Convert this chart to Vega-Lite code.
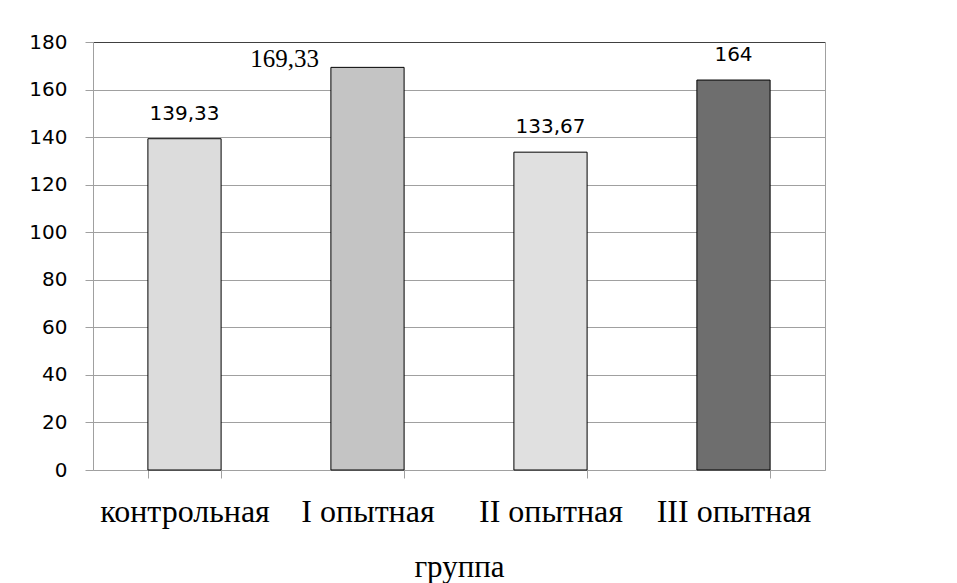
{
  "$schema": "https://vega.github.io/schema/vega-lite/v6.json",
  "width": 732,
  "height": 428,
  "autosize": {"type": "none"},
  "padding": {"left": 93, "top": 42, "right": 132, "bottom": 113},
  "background": "white",
  "config": {"view": {"stroke": null}},
  "data": {
    "values": [
      {"group": "контрольная", "value": 139.33, "label": "139,33"},
      {"group": "I опытная", "value": 169.33, "label": "169,33"},
      {"group": "II опытная", "value": 133.67, "label": "133,67"},
      {"group": "III опытная", "value": 164, "label": "164"}
    ]
  },
  "resolve": {"axis": {"y": "independent"}},
  "encoding": {
    "x": {
      "field": "group",
      "type": "nominal",
      "sort": null,
      "scale": {"paddingInner": 0.6, "paddingOuter": 0.3},
      "axis": {
        "labelAngle": 0,
        "tickBand": "extent",
        "tickSize": 8,
        "tickColor": "#a0a0a0",
        "domainColor": "#a0a0a0",
        "labelFont": "Liberation Serif",
        "labelFontSize": 32,
        "labelColor": "black",
        "labelBaseline": "alphabetic",
        "labelPadding": 43.7,
        "labelOverlap": false,
        "labelLimit": 0,
        "title": "группа",
        "titleFont": "Liberation Serif",
        "titleFontSize": 31,
        "titleFontWeight": "normal",
        "titleColor": "black",
        "titleBaseline": "alphabetic",
        "titleY": 106,
        "grid": false
      }
    }
  },
  "layer": [
    {
      "mark": {"type": "bar", "stroke": "black", "strokeWidth": 1},
      "encoding": {
        "y": {
          "field": "value",
          "type": "quantitative",
          "scale": {"domain": [0, 180]},
          "axis": {
            "orient": "left",
            "values": [0, 20, 40, 60, 80, 100, 120, 140, 160, 180],
            "tickSize": 8,
            "tickColor": "#a0a0a0",
            "domainColor": "#a0a0a0",
            "grid": true,
            "gridColor": {"condition": {"test": "datum.value === 180", "value": "#404040"}, "value": "#a0a0a0"},
            "labelFont": "DejaVu Sans",
            "labelFontSize": 20,
            "labelColor": "black",
            "labelPadding": 18,
            "title": null
          }
        },
        "fill": {
          "field": "group",
          "type": "nominal",
          "scale": {
            "domain": ["контрольная", "I опытная", "II опытная", "III опытная"],
            "range": ["#dcdcdc", "#c4c4c4", "#e0e0e0", "#6e6e6e"]
          },
          "legend": null
        }
      }
    },
    {
      "transform": [{"filter": "datum.group !== 'I опытная'"}],
      "mark": {"type": "text", "font": "DejaVu Sans", "fontSize": 20, "baseline": "alphabetic", "dy": -19, "color": "black"},
      "encoding": {
        "y": {
          "field": "value",
          "type": "quantitative",
          "scale": {"domain": [0, 180]},
          "axis": {
            "orient": "right",
            "values": [0, 180],
            "domain": true,
            "domainColor": "#a0a0a0",
            "ticks": false,
            "labels": false,
            "grid": false,
            "title": null
          }
        },
        "text": {"field": "label"}
      }
    },
    {
      "transform": [{"filter": "datum.group === 'I опытная'"}],
      "mark": {"type": "text", "font": "Liberation Serif", "fontSize": 25, "baseline": "alphabetic", "dx": -83, "color": "black"},
      "encoding": {
        "y": {"field": "value", "type": "quantitative", "scale": {"domain": [0, 180]}, "axis": null},
        "text": {"field": "label"}
      }
    }
  ]
}
